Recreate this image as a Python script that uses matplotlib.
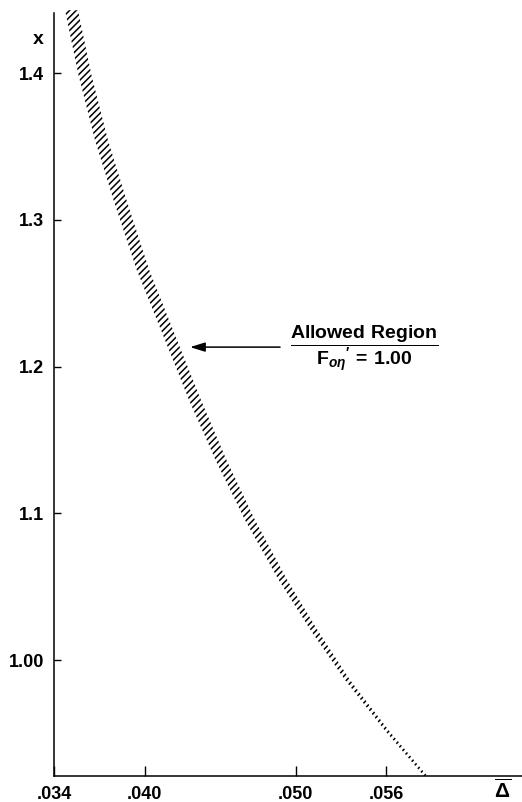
import matplotlib
matplotlib.use("Agg")
import matplotlib.pyplot as plt
from matplotlib.transforms import blended_transform_factory

plt.rcParams['font.family'] = ['Liberation Sans', 'DejaVu Sans']
plt.rcParams['font.weight'] = 'bold'
plt.rcParams['mathtext.fontset'] = 'custom'
plt.rcParams['mathtext.rm'] = 'Liberation Sans:bold'
plt.rcParams['mathtext.bf'] = 'Liberation Sans:bold'
plt.rcParams['mathtext.it'] = 'Liberation Sans:italic:bold'
plt.rcParams['hatch.linewidth'] = 1.1

# ---- data ----
band_y = [1.4429, 1.3986, 1.3543, 1.3135, 1.2658, 1.2181, 1.1772, 1.1363,
          1.0954, 1.0545, 1.0204, 0.9864, 0.9523, 0.9210]
band_left = [0.034729, 0.035623, 0.036716, 0.037941, 0.039480, 0.041351, 0.042941,
             0.044696, 0.046649, 0.048885, 0.050987, 0.053271, 0.055888, 0.058493]
band_right = [0.035589, 0.036483, 0.037576, 0.038801, 0.040308, 0.042145, 0.043735,
              0.045424, 0.047311, 0.049447, 0.051451, 0.053603, 0.056152, 0.058725]

xticks = [0.034, 0.040, 0.050, 0.056]
xticklabels = ['.034', '.040', '.050', '.056']
yticks = [1.00, 1.1, 1.2, 1.3, 1.4]
yticklabels = ['1.00', '1.1', '1.2', '1.3', '1.4']

xlim = (0.034, 0.06499)
ylim = (0.921, 1.441)

fig = plt.figure(figsize=(5.22, 8.02), dpi=100)
ax = fig.add_axes([54/522, 26/802, 468/522, 763/802])

ax.fill_betweenx(band_y, band_left, band_right, facecolor='white',
                 edgecolor='black', hatch='/////', linewidth=0, clip_on=False)

ax.set_xlim(*xlim)
ax.set_ylim(*ylim)

for s in ['top', 'right']:
    ax.spines[s].set_visible(False)
for s in ['left', 'bottom']:
    ax.spines[s].set_linewidth(1.1)

ax.set_xticks(xticks)
ax.set_xticklabels(xticklabels, fontsize=13, fontweight='bold')
ax.set_yticks(yticks)
ax.set_yticklabels(yticklabels, fontsize=13, fontweight='bold')
ax.tick_params(axis='x', direction='in', length=7, width=1.0, pad=7)
ax.tick_params(axis='y', direction='in', length=5, width=1.0, pad=7)

# axis labels
tx = blended_transform_factory(ax.transAxes, ax.transData)
ax.text(-0.034, 1.423, 'x', transform=tx, ha='center', va='center',
        fontsize=14, fontweight='bold')
ty = blended_transform_factory(ax.transData, ax.transAxes)
ax.text(0.0637, -0.018, r'$\overline{\Delta}$', transform=ty, ha='center', va='center',
        fontsize=15)

# annotation
ax.annotate('', xy=(0.04301, 1.2133), xytext=(0.04897, 1.2133),
            arrowprops=dict(arrowstyle='-|>,head_length=0.9,head_width=0.28',
                            color='black', lw=1.1, shrinkA=0, shrinkB=0))
ax.text(0.05453, 1.2125,
        r"$\dfrac{\mathrm{Allowed\ Region}}{\mathrm{F}_{o\eta}{}^{\prime}\,\mathrm{=\,1.00}}$",
        ha='center', va='center', fontsize=14)

fig.savefig('out.png', dpi=100)
